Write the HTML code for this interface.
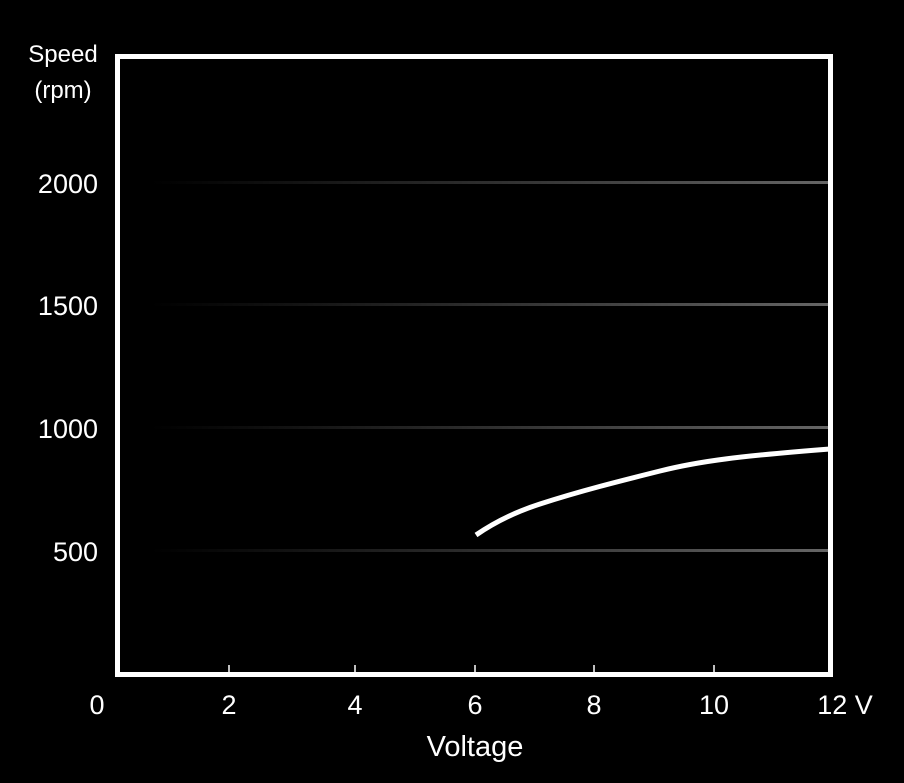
<!DOCTYPE html>
<html><head><style>
html,body{margin:0;padding:0;background:#000;}
svg{display:block}
text{font-family:"Liberation Sans",sans-serif;fill:#fff;}
</style></head><body>
<svg width="904" height="783" viewBox="0 0 904 783">
<defs>
<linearGradient id="g" x1="0" x2="1" y1="0" y2="0">
<stop offset="0" stop-color="#555" stop-opacity="0"/>
<stop offset="1" stop-color="#666" stop-opacity="1"/>
</linearGradient>
</defs>
<rect width="904" height="783" fill="#000"/>
<rect x="150" y="181" width="680" height="3" fill="url(#g)"/>
<rect x="150" y="303" width="680" height="3" fill="url(#g)"/>
<rect x="150" y="426" width="680" height="3" fill="url(#g)"/>
<rect x="150" y="549" width="680" height="3" fill="url(#g)"/>
<rect x="117.5" y="56.5" width="713" height="618" fill="none" stroke="#fff" stroke-width="5"/>
<g stroke="#fff" stroke-width="1.5">
<line x1="229" y1="672" x2="229" y2="665"/>
<line x1="355" y1="672" x2="355" y2="665"/>
<line x1="475" y1="672" x2="475" y2="665"/>
<line x1="594" y1="672" x2="594" y2="665"/>
<line x1="714" y1="672" x2="714" y2="665"/>
</g>
<path d="M476,535 C495,522 515,512 540,504 C580,491 620,481 660,471 C700,461 740,456 830,449" fill="none" stroke="#fff" stroke-width="5"/>
<g font-size="27" text-anchor="end">
<text x="98" y="193">2000</text>
<text x="98" y="315">1500</text>
<text x="98" y="438">1000</text>
<text x="98" y="561">500</text>
</g>
<g font-size="24" text-anchor="middle">
<text x="63" y="62">Speed</text>
<text x="63" y="98">(rpm)</text>
</g>
<g font-size="27" text-anchor="middle">
<text x="97" y="714">0</text>
<text x="229" y="714">2</text>
<text x="355" y="714">4</text>
<text x="475" y="714">6</text>
<text x="594" y="714">8</text>
<text x="714" y="714">10</text>
<text x="845" y="714">12 V</text>
<text x="475" y="756" font-size="29">Voltage</text>
</g>
</svg>
</body></html>
